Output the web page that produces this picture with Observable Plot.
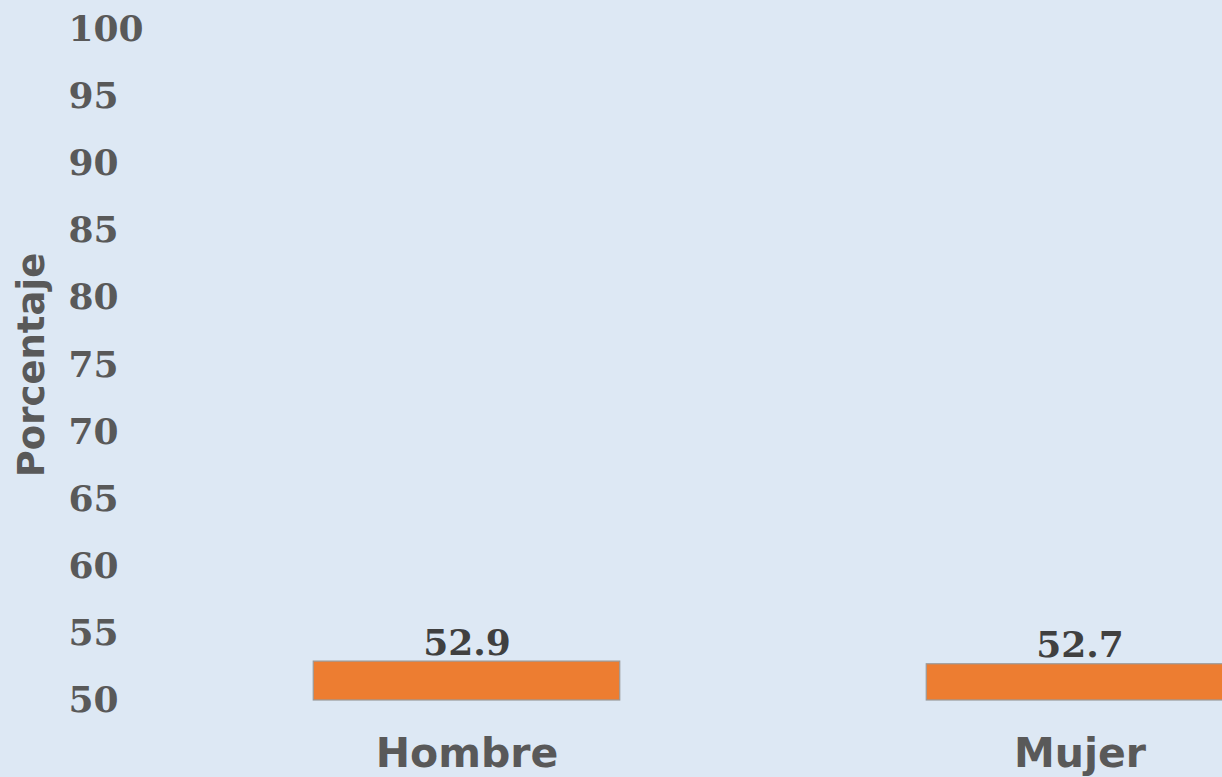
<!DOCTYPE html>
<html>
<head>
<meta charset="utf-8">
<script src="https://cdn.jsdelivr.net/npm/d3@7"></script>
<script src="https://cdn.jsdelivr.net/npm/@observablehq/plot@0.6"></script>
<style>
  html, body { margin: 0; padding: 0; background: #dde8f4; overflow: hidden; }
  #chart { width: 1222px; height: 777px; }
</style>
</head>
<body>
<div id="chart"></div>
<script>
const categories = ["Hombre", "Mujer"];
const values = [52.9, 52.7];
const yTicks = [50, 55, 60, 65, 70, 75, 80, 85, 90, 95, 100];
const yLabel = "Porcentaje";
const yBase = 50;

const data = categories.map((c, i) => ({sexo: c, valor: values[i]}));

const plot = Plot.plot({
  width: 1222,
  height: 777,
  marginTop: 29,
  marginBottom: 77,
  marginLeft: 160,
  marginRight: 0,
  style: {background: "#dde8f4", overflow: "hidden"},
  x: {domain: categories, range: [160, 1386], paddingInner: 0.5, paddingOuter: 0.25, round: false, label: null},
  y: {domain: [50, 100], label: null},
  marks: [
    Plot.barY(data, {x: "sexo", y1: yBase, y2: "valor", fill: "#ed7d31", stroke: "#9a9a9a", strokeWidth: 1.2}),
    Plot.text(data, {x: "sexo", y: "valor", text: d => d.valor.toFixed(1), lineAnchor: "bottom", dy: -7,
      fontFamily: "DejaVu Serif", fontWeight: "bold", fontSize: 36, fill: "#404040"}),
    Plot.axisY({ticks: yTicks, tickSize: 0, tickPadding: 92, textAnchor: "start", label: null,
      fontFamily: "DejaVu Serif", fontWeight: "bold", fontSize: 36, fill: "#595959"}),
    Plot.axisX({tickSize: 0, tickPadding: 37, label: null,
      fontFamily: "DejaVu Sans", fontWeight: "bold", fontSize: 41, fill: "#595959"}),
    Plot.text([yLabel], {frameAnchor: "left", text: d => d, rotate: -90, dx: -128, textAnchor: "middle",
      fontFamily: "DejaVu Sans", fontWeight: "bold", fontSize: 37, fill: "#595959"})
  ]
});
document.getElementById("chart").appendChild(plot);
</script>
</body>
</html>
